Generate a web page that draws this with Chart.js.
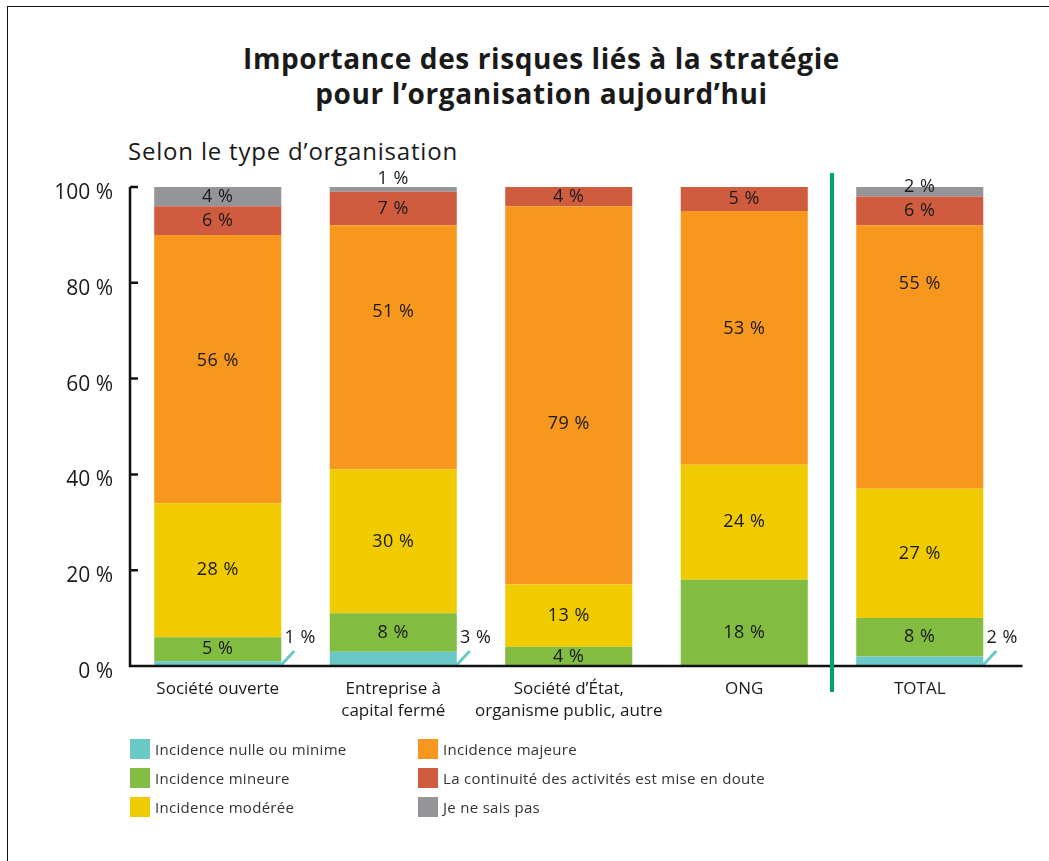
<!DOCTYPE html>
<html lang="fr">
  <head>
    <meta charset="UTF-8" />
    <title>Importance des risques liés à la stratégie</title>
    <script src="https://cdn.jsdelivr.net/npm/chart.js"></script>
    <style>
      html,
      body {
        margin: 0;
        padding: 0;
        background: #fff;
        overflow: hidden;
      }

      body {
        width: 1049px;
        height: 861px;
        position: relative;
        font-family: "Open Sans", sans-serif;
        color: #1a1a1a;
      }

      .frame {
        position: absolute;
        left: 7px;
        top: 6px;
        width: 1200px;
        height: 1000px;
        border: 1.5px solid #111;
      }

      h1 {
        position: absolute;
        left: 0;
        width: 1083px;
        top: 41px;
        margin: 0;
        text-align: center;
        font-size: 28px;
        line-height: 35px;
        letter-spacing: 0.6px;
        font-weight: 700;
      }

      h2 {
        position: absolute;
        left: 128px;
        top: 134px;
        margin: 0;
        font-size: 24px;
        letter-spacing: 0.8px;
        font-weight: 400;
      }

      #chart {
        position: absolute;
        left: 0;
        top: 0;
      }

      .legend {
        position: absolute;
        left: 130px;
        top: 739px;
        display: grid;
        grid-template-columns: 288px auto;
        grid-template-rows: repeat(3, 29px);
        grid-auto-flow: column;
      }

      .legend div {
        display: flex;
        align-items: center;
        height: 20px;
        font-size: 15px;
        letter-spacing: 0.3px;
        color: #333;
      }

      .legend span {
        width: 20px;
        height: 20px;
        margin-right: 5px;
      }
    </style>
  </head>
  <body>
    <div class="frame"></div>
    <h1>Importance des risques liés à la stratégie<br />pour l’organisation aujourd’hui</h1>
    <h2>Selon le type d’organisation</h2>
    <canvas id="chart" width="1049" height="740"></canvas>
    <div class="legend" id="legend"></div>

    <script>
      const categories = [
        ["Société ouverte"],
        ["Entreprise à", "capital fermé"],
        ["Société d’État,", "organisme public, autre"],
        ["ONG"],
        ["TOTAL"],
      ];
      const seriesNames = [
        "Incidence nulle ou minime",
        "Incidence mineure",
        "Incidence modérée",
        "Incidence majeure",
        "La continuité des activités est mise en doute",
        "Je ne sais pas",
      ];
      const nulle = [1, 3, 0, 0, 2];
      const mineure = [5, 8, 4, 18, 8];
      const moderee = [28, 30, 13, 24, 27];
      const majeure = [56, 51, 79, 53, 55];
      const continuite = [6, 7, 4, 5, 6];
      const neSaisPas = [4, 1, 0, 0, 2];
      const yTicks = [0, 20, 40, 60, 80, 100];

      const seriesData = [nulle, mineure, moderee, majeure, continuite, neSaisPas];
      const colors = ["#6AC8C6", "#82BC41", "#F0CB00", "#F7971E", "#D05C40", "#939598"];

      // small vertical nudges (px) for some labels, "dataset-index"
      const labelNudge = { "3-0": -8, "3-1": -36, "3-2": 29, "3-3": -9, "3-4": -73, "1-3": 10, "5-4": -5 };

      const axisLines = {
        id: "axisLines",
        afterDraw(chart) {
          const { ctx, chartArea: a, scales } = chart;
          const y = scales.y;
          ctx.save();
          ctx.strokeStyle = "#111";
          ctx.lineWidth = 2.5;
          ctx.beginPath();
          ctx.moveTo(a.left, y.getPixelForValue(100));
          ctx.lineTo(a.left, a.bottom);
          ctx.lineTo(a.right + 15, a.bottom);
          y.ticks.forEach((t) => {
            if (t.value === 0) return;
            const py = y.getPixelForValue(t.value);
            ctx.moveTo(a.left, py);
            ctx.lineTo(a.left + 8, py);
          });
          ctx.stroke();

          // green separator before TOTAL
          const bars = chart.getDatasetMeta(0).data;
          const sx = (bars[3].x + bars[4].x) / 2;
          ctx.strokeStyle = "#00A466";
          ctx.lineWidth = 4;
          ctx.beginPath();
          ctx.moveTo(sx, a.top - 14);
          ctx.lineTo(sx, a.bottom + 26);
          ctx.stroke();
          ctx.restore();
        },
      };

      const segmentLabels = {
        id: "segmentLabels",
        afterDatasetsDraw(chart) {
          const ctx = chart.ctx;
          const last = chart.data.datasets.length - 1;
          ctx.save();
          ctx.font = '18px "Open Sans"';
          ctx.letterSpacing = "0.5px";
          ctx.fillStyle = "#1a1a1a";
          ctx.textAlign = "center";
          ctx.textBaseline = "middle";
          chart.data.datasets.forEach((ds, d) => {
            chart.getDatasetMeta(d).data.forEach((bar, i) => {
              const v = ds.data[i];
              if (!v) return;
              const text = v + " %";
              const right = bar.x + bar.width / 2;
              if (d === 0) {
                ctx.strokeStyle = ds.backgroundColor;
                ctx.lineWidth = 3;
                ctx.beginPath();
                ctx.moveTo(right - 1, bar.base);
                ctx.lineTo(right + 13, bar.base - 15);
                ctx.stroke();
                ctx.fillText(text, right + 19, bar.base - 28);
                return;
              }
              let py = (bar.y + bar.base) / 2;
              if (d === last && bar.base - bar.y < 8) py = bar.y - 8;
              py += labelNudge[d + "-" + i] || 0;
              ctx.fillText(text, bar.x, py);
            });
          });
          ctx.restore();
        },
      };

      new Chart(document.getElementById("chart"), {
        type: "bar",
        data: {
          labels: categories,
          datasets: seriesNames.map((name, k) => ({
            label: name,
            data: seriesData[k],
            backgroundColor: colors[k],
            borderWidth: 0,
            categoryPercentage: 1,
            barPercentage: 0.724,
          })),
        },
        options: {
          responsive: false,
          animation: false,
          layout: { padding: { left: 50, right: 41.5, top: 187, bottom: 14 } },
          plugins: {
            legend: { display: false },
            tooltip: { enabled: false },
          },
          scales: {
            x: {
              stacked: true,
              grid: { display: false, drawTicks: false },
              border: { display: false },
              ticks: {
                font: { family: "Open Sans", size: 17, lineHeight: 1.3 },
                color: "#1a1a1a",
                padding: 12,
                maxRotation: 0,
                autoSkip: false,
              },
              afterFit(s) {
                s.height = 60;
              },
            },
            y: {
              stacked: true,
              min: 0,
              max: 100,
              afterBuildTicks(s) {
                s.ticks = yTicks.map((v) => ({ value: v }));
              },
              grid: { display: false, drawTicks: false },
              border: { display: false },
              ticks: {
                callback: (v) => v + " %",
                font: { family: "Open Sans", size: 21 },
                color: "#1a1a1a",
                padding: 17,
                labelOffset: 6,
              },
              afterFit(s) {
                s.width = 80;
              },
            },
          },
        },
        plugins: [axisLines, segmentLabels],
      });

      const legend = document.getElementById("legend");
      seriesNames.forEach((name, k) => {
        const item = document.createElement("div");
        item.innerHTML = '<span style="background:' + colors[k] + '"></span>' + name;
        legend.appendChild(item);
      });
    </script>
  </body>
</html>
